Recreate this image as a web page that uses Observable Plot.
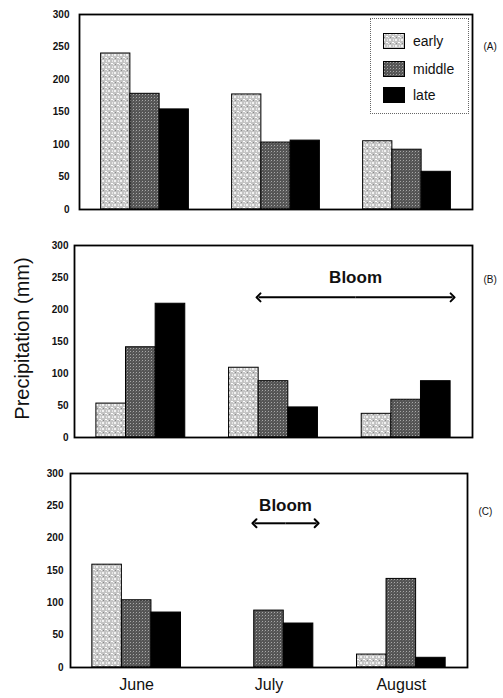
<!DOCTYPE html>
<html><head><meta charset="utf-8">
<script src="https://cdn.jsdelivr.net/npm/d3@7"></script>
<script src="https://cdn.jsdelivr.net/npm/@observablehq/plot@0.6"></script>
<style>
body{margin:0;background:#fff;font-family:"Liberation Sans",Arial,sans-serif;}
#wrap{position:relative;width:503px;height:698px;overflow:hidden;}
.panel{position:absolute;left:0;}
#legend{position:absolute;left:370px;top:18px;width:99px;height:96px;border:1px dotted #666;box-sizing:border-box;background:#fff;}
.item{position:absolute;left:12px;height:16px;display:flex;align-items:center;font-size:14px;color:#111;}
.item svg{margin-right:8px;}
</style></head><body>
<svg width="0" height="0" style="position:absolute">
<defs>
<pattern id="pat-early" width="6" height="6" patternUnits="userSpaceOnUse">
<rect width="6" height="6" fill="#c4c4c4"/>
<rect x="0" y="0" width="2" height="2" fill="#f2f2f2"/>
<rect x="3" y="3" width="2" height="1" fill="#ffffff"/>
<rect x="4" y="0" width="1" height="2" fill="#e6e6e6"/>
<rect x="1" y="4" width="1" height="1" fill="#8a8a8a"/>
<rect x="5" y="4" width="1" height="1" fill="#eeeeee"/>
</pattern>
<pattern id="pat-middle" width="3" height="3" patternUnits="userSpaceOnUse">
<rect width="3" height="3" fill="#555"/>
<rect x="1" y="1" width="1" height="1" fill="#a8a8a8"/>
<rect x="0" y="2" width="1" height="1" fill="#6a6a6a"/>
</pattern>
<pattern id="pat-late" width="4" height="4" patternUnits="userSpaceOnUse">
<rect width="4" height="4" fill="#000"/>
</pattern>
</defs></svg>
<div id="wrap"></div>
<script>
// ---- data ----
const months = ["June", "July", "August"];
const timings = ["early", "middle", "late"];
const yTicks = [0, 50, 100, 150, 200, 250, 300];

// Panel A
const aEarly  = [240, 177, 105];
const aMiddle = [178, 103, 92];
const aLate   = [154, 106, 58];
// Panel B
const bEarly  = [53, 109, 37];
const bMiddle = [141, 88, 59];
const bLate   = [209, 47, 88];
// Panel C
const cEarly  = [159, null, 20];
const cMiddle = [104, 88, 137];
const cLate   = [85, 68, 15];

// Bloom periods (in month-index units, June = 0)
const bloomB = [0.887, 2.35];
const bloomC = [0.89, 1.36];

const panelLabels = ["(A)", "(B)", "(C)"];
const yLabel = "Precipitation (mm)";

// ---- drawing ----
const groupW = 0.67;
const barW = groupW / 3;

function rows(series) {
  const out = [];
  series.forEach((vals, t) => vals.forEach((v, m) => {
    if (v != null) out.push({m, t, value: v});
  }));
  return out;
}

function panel({series, label, top, height, mt, mb, ml, mr, tickPad, showX, bloom, labelDy, yLab}) {
  const data = rows(series);
  const marks = [];
  timings.forEach((tm, t) => {
    marks.push(Plot.rectY(data.filter(d => d.t === t), {
      x1: d => d.m - groupW / 2 + d.t * barW,
      x2: d => d.m - groupW / 2 + (d.t + 1) * barW,
      y: "value",
      fill: `url(#pat-${tm})`,
      stroke: "#000",
      strokeWidth: 1
    }));
  });
  marks.push(Plot.frame({stroke: "#000", strokeWidth: 1.8}));
  marks.push(Plot.axisY({ticks: yTicks, tickSize: 0, tickPadding: tickPad, fontSize: 10, fontWeight: "bold", label: null}));
  if (showX) {
    marks.push(Plot.axisX({ticks: [0, 1, 2], tickFormat: i => months[i], tickSize: 0, tickPadding: 11, fontSize: 16, label: null}));
  }
  if (bloom) {
    const mid = (bloom[0] + bloom[1]) / 2;
    const halves = [{a: mid, b: bloom[0]}, {a: mid, b: bloom[1]}];
    marks.push(Plot.link(halves, {x1: "a", x2: "b", y1: bloom.yArrow, y2: bloom.yArrow,
      stroke: "#000", strokeWidth: 2, markerEnd: "arrow"}));
    marks.push(Plot.text([mid], {x: d => d, y: bloom.yText, text: () => "Bloom",
      fontSize: 17, fontWeight: "bold", fill: "#111"}));
  }
  marks.push(Plot.text([label], {frameAnchor: "top-right", dx: 11, dy: labelDy, textAnchor: "start", fontSize: 10, fill: "#111"}));
  if (yLab) {
    marks.push(Plot.text([yLab], {frameAnchor: "left", textAnchor: "middle", lineAnchor: "middle", rotate: -90, dx: -52, dy: -3, fontSize: 20, fill: "#111"}));
  }
  const chart = Plot.plot({
    width: 503,
    height,
    marginTop: mt, marginBottom: mb, marginLeft: ml, marginRight: mr,
    style: {fontFamily: '"Liberation Sans", Arial, sans-serif', color: "#111", background: "transparent", overflow: "visible"},
    x: {domain: [-0.5, 2.5], axis: null},
    y: {domain: [0, 300], axis: null},
    marks
  });
  const div = document.createElement("div");
  div.className = "panel";
  div.style.top = top + "px";
  div.appendChild(chart);
  document.getElementById("wrap").appendChild(div);
}

const bB = Object.assign([...bloomB], {yArrow: 219, yText: 250});
const bC = Object.assign([...bloomC], {yArrow: 223, yText: 251});

panel({series: [aEarly, aMiddle, aLate], label: panelLabels[0], top: 0, height: 230, mt: 14, mb: 21, ml: 79, mr: 31, tickPad: 10, showX: false, labelDy: 28});
panel({series: [bEarly, bMiddle, bLate], label: panelLabels[1], top: 230, height: 228, mt: 15, mb: 21, ml: 74, mr: 31, tickPad: 6, showX: false, bloom: bB, labelDy: 30, yLab: yLabel});
panel({series: [cEarly, cMiddle, cLate], label: panelLabels[2], top: 458, height: 240, mt: 15, mb: 31, ml: 70, mr: 36, tickPad: 7, showX: true, bloom: bC, labelDy: 34});

// legend (panel A)
const legend = document.createElement("div");
legend.id = "legend";
timings.forEach((tm, i) => {
  const it = document.createElement("div");
  it.className = "item";
  it.style.top = [14, 42, 68][i] + "px";
  it.innerHTML = `<svg width="22" height="16"><rect x="0.5" y="0.5" width="21" height="15" fill="url(#pat-${tm})" stroke="#000"/></svg><span>${tm}</span>`;
  legend.appendChild(it);
});
document.getElementById("wrap").appendChild(legend);
</script>
</body></html>
